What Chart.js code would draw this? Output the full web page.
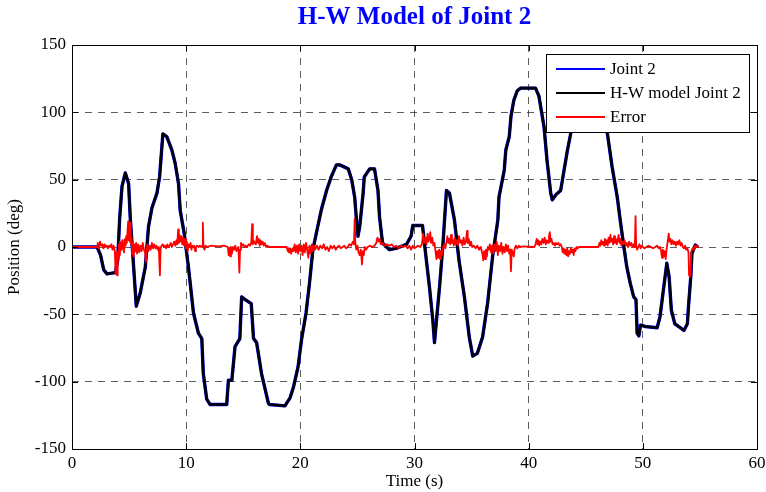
<!DOCTYPE html>
<html>
<head>
<meta charset="utf-8">
<script src="https://cdn.jsdelivr.net/npm/chart.js@4.4.1/dist/chart.umd.min.js"></script>
<style>
  html, body { margin: 0; padding: 0; background: #ffffff; }
  #wrap { width: 766px; height: 492px; position: relative; }
</style>
</head>
<body>
<div id="wrap"><canvas id="c" width="766" height="492"></canvas></div>
<script>
// ---- Data ----
const chartTitle = "H-W Model of Joint 2";
const seriesNames = ["Joint 2", "H-W model Joint 2", "Error"];
const xTickValues = [0, 10, 20, 30, 40, 50, 60];
const yTickValues = [-150, -100, -50, 0, 50, 100, 150];

// time (s) of joint-angle samples
const jointTime = [0, 2.2, 2.5, 2.78, 3.07, 3.8, 4.0, 4.18, 4.38, 4.67, 4.96, 5.1, 5.4, 5.63, 5.98, 6.42, 6.7, 7.0, 7.44, 7.67, 7.96, 8.3, 8.75, 9.04, 9.33, 9.48, 9.83, 10.2, 10.64, 11.07, 11.37, 11.5, 11.8, 12.1, 13.55, 13.7, 14.0, 14.28, 14.7, 14.86, 15.15, 15.7, 15.9, 16.17, 16.6, 17.2, 17.3, 18.65, 19.1, 19.4, 19.8, 20.1, 20.5, 20.8, 21.1, 21.47, 21.85, 22.3, 22.7, 23.16, 23.45, 24.2, 24.5, 24.76, 24.9, 25.05, 25.2, 25.5, 25.6, 26.07, 26.5, 26.8, 26.94, 27.2, 27.8, 28.4, 29.3, 29.7, 29.85, 30.7, 31.0, 31.3, 31.6, 31.75, 31.95, 32.2, 32.5, 32.8, 33.06, 33.5, 33.9, 34.37, 34.8, 35.1, 35.5, 35.96, 36.4, 36.84, 37.3, 37.4, 37.86, 38.0, 38.3, 38.45, 38.7, 39.0, 39.3, 40.6, 40.9, 41.35, 41.6, 41.93, 42.07, 42.4, 42.8, 43.1, 43.4, 43.7, 44.2, 45.0, 46.0, 46.6, 46.9, 47.3, 47.76, 48.05, 48.34, 48.6, 48.9, 49.2, 49.4, 49.5, 49.65, 49.8, 50.2, 51.25, 51.5, 51.8, 52.1, 52.3, 52.5, 52.8, 53.3, 53.6, 53.9, 54.0, 54.2, 54.3, 54.6, 54.75];
// measured joint angle (deg)
const jointDeg = [0, 0, -6, -17, -20, -19, -10, 22, 45, 55, 47, 22, -15, -44, -34, -15, 15, 29, 40, 52, 84, 82, 72, 62, 47, 27, 10, -15, -49, -64, -68, -94, -113, -117, -117, -99, -99, -74, -68, -37, -39, -42, -68, -71, -94, -116, -117, -118, -112, -104, -89, -69, -49, -27, -2, 13, 28, 42, 52, 61, 61, 58, 50, 37, 22, 8, 15, 40, 52, 58, 58, 42, 22, 3, -2, -1, 2, 8, 16, 16, -7, -29, -54, -71, -52, -29, 3, 42, 40, 20, -10, -37, -67, -81, -79, -67, -42, -7, 20, 37, 57, 72, 82, 97, 109, 116, 118, 118, 112, 89, 65, 40, 35, 39, 42, 57, 72, 85, 100, 106, 104, 95, 84, 60, 37, 18, 0, -15, -27, -37, -39, -64, -66, -58, -59, -60, -52, -32, -12, -22, -47, -57, -60, -62, -57, -44, -22, -5, 1.5, 0.5];
// H-W model output (deg): it overlays the measured curve in the picture
const modelDeg = jointDeg;

// error between measurement and model
const errTime = [0, 2.2, 2.25, 2.35, 2.45, 2.55, 2.65, 2.75, 2.85, 2.95, 3.05, 3.15, 3.25, 3.35, 3.45, 3.55, 3.65, 3.75, 3.82, 3.88, 3.95, 4.0, 4.05, 4.1, 4.15, 4.2, 4.25, 4.3, 4.35, 4.4, 4.45, 4.5, 4.55, 4.6, 4.65, 4.7, 4.75, 4.8, 4.85, 4.92, 4.97, 5.02, 5.07, 5.12, 5.17, 5.22, 5.27, 5.32, 5.37, 5.42, 5.47, 5.52, 5.57, 5.62, 5.7, 5.8, 5.9, 6.0, 6.1, 6.2, 6.3, 6.4, 6.48, 6.55, 6.6, 6.7, 6.8, 6.9, 7.0, 7.1, 7.2, 7.3, 7.4, 7.5, 7.6, 7.7, 7.76, 7.85, 7.95, 8.05, 8.15, 8.25, 8.35, 8.45, 8.55, 8.65, 8.75, 8.85, 8.95, 9.05, 9.15, 9.22, 9.3, 9.36, 9.42, 9.5, 9.58, 9.66, 9.74, 9.82, 9.9, 9.98, 10.06, 10.14, 10.22, 10.3, 10.38, 10.46, 10.54, 10.62, 10.7, 10.78, 10.86, 10.96, 11.1, 11.2, 11.3, 11.4, 11.46, 11.52, 11.6, 11.7, 11.8, 12.2, 12.8, 13.3, 13.65, 13.72, 13.78, 13.85, 13.92, 14.0, 14.1, 14.2, 14.3, 14.4, 14.5, 14.58, 14.66, 14.72, 14.8, 14.9, 15.0, 15.1, 15.2, 15.3, 15.4, 15.5, 15.6, 15.7, 15.78, 15.84, 15.9, 16.0, 16.1, 16.2, 16.28, 16.36, 16.44, 16.52, 16.6, 16.7, 16.8, 16.9, 17.0, 17.1, 17.3, 18.8, 18.9, 18.95, 19.0, 19.1, 19.2, 19.3, 19.4, 19.5, 19.6, 19.7, 19.8, 19.9, 20.0, 20.1, 20.2, 20.3, 20.4, 20.5, 20.6, 20.7, 20.8, 20.9, 21.0, 21.1, 21.2, 21.3, 21.45, 21.6, 21.75, 21.9, 22.05, 22.2, 22.35, 22.5, 22.65, 22.8, 22.95, 23.1, 23.25, 23.4, 23.55, 23.7, 23.85, 24.0, 24.15, 24.3, 24.45, 24.6, 24.7, 24.76, 24.82, 24.9, 25.0, 25.1, 25.2, 25.3, 25.4, 25.48, 25.56, 25.64, 25.75, 25.9, 26.1, 26.3, 26.5, 26.65, 26.75, 26.85, 26.95, 27.05, 27.2, 27.4, 27.6, 27.8, 28.0, 28.2, 28.4, 28.6, 28.8, 29.0, 29.2, 29.4, 29.55, 29.7, 29.85, 30.0, 30.15, 30.3, 30.5, 30.65, 30.75, 30.85, 30.95, 31.05, 31.15, 31.22, 31.3, 31.38, 31.45, 31.55, 31.65, 31.75, 31.85, 31.92, 32.0, 32.08, 32.16, 32.24, 32.32, 32.4, 32.5, 32.6, 32.7, 32.8, 32.88, 32.96, 33.04, 33.12, 33.2, 33.28, 33.36, 33.44, 33.52, 33.6, 33.7, 33.8, 33.9, 34.0, 34.1, 34.2, 34.3, 34.4, 34.5, 34.6, 34.66, 34.75, 34.85, 34.95, 35.05, 35.2, 35.35, 35.5, 35.65, 35.8, 35.95, 36.02, 36.1, 36.18, 36.26, 36.34, 36.42, 36.5, 36.6, 36.7, 36.8, 36.9, 37.0, 37.1, 37.2, 37.3, 37.4, 37.5, 37.6, 37.7, 37.8, 37.9, 38.0, 38.1, 38.2, 38.3, 38.38, 38.45, 38.52, 38.6, 38.7, 38.78, 38.9, 39.0, 39.15, 39.3, 39.5, 40.5, 40.6, 40.7, 40.78, 40.86, 40.94, 41.02, 41.1, 41.2, 41.3, 41.4, 41.5, 41.6, 41.7, 41.78, 41.85, 41.92, 42.0, 42.1, 42.2, 42.3, 42.4, 42.5, 42.6, 42.7, 42.8, 42.9, 42.98, 43.06, 43.14, 43.22, 43.3, 43.38, 43.46, 43.54, 43.62, 43.7, 43.78, 43.86, 43.94, 44.02, 44.1, 44.2, 44.3, 44.4, 46.1, 46.2, 46.28, 46.36, 46.44, 46.52, 46.6, 46.68, 46.76, 46.84, 46.92, 47.0, 47.08, 47.16, 47.24, 47.32, 47.4, 47.48, 47.56, 47.64, 47.72, 47.8, 47.88, 47.96, 48.04, 48.12, 48.2, 48.3, 48.4, 48.5, 48.6, 48.7, 48.8, 48.9, 49.0, 49.1, 49.2, 49.3, 49.36, 49.42, 49.5, 49.6, 49.7, 49.8, 49.9, 50.0, 50.15, 50.3, 50.5, 50.7, 50.9, 51.1, 51.25, 51.4, 51.5, 51.6, 51.68, 51.76, 51.84, 51.92, 52.0, 52.08, 52.16, 52.27, 52.34, 52.42, 52.5, 52.6, 52.7, 52.8, 52.9, 53.0, 53.1, 53.2, 53.3, 53.4, 53.5, 53.6, 53.7, 53.8, 53.9, 54.0, 54.05, 54.12, 54.18, 54.25, 54.35, 54.45, 54.55, 54.65, 54.75, 54.85];
const errDeg = [0, 0, 3, -1, 4, 1, 2, -1, 2, 0, 1, -1, 1, 0, 2, -2, 1, -3, -20, -4, -21, -3, -9, 2, -6, 4, -3, 3, -2, 5, -1, 3, -4, 2, 6, 1, 8, 3, 10, 19, 5, 12, 4, 18, 2, 7, -5, 3, -7, 1, -4, 2, -3, 3, -5, 2, -4, 1, -3, 3, -2, -4, -11, -1, 2, -3, 1, -2, 3, -1, 2, -1, 1, -2, 0, -21, -1, 1, 2, 0, 1, -1, 2, 0, 1, 3, 0, 2, 4, 1, 5, 2, 13, 3, 9, 4, 8, 2, 7, 1, 6, -1, 4, -3, 2, 0, 3, -2, 1, 0, 1, -3, 0, 1, 0, 1, 0, 1, 18, 0, -2, 1, 0, 1, 0.5, 1, 0, -6, -1, -7, 0, -5, 0, -2, 1, -3, -1, 0, -19, -2, 3, 1, 2, 0, 1, 0, 1, 2, 1, 3, 17, 2, 5, 3, 2, 8, 3, 6, 1, 5, 2, 4, 1, 3, 0, 1, 0, 0, -3, -1, -4, -1, -5, -1, -3, 2, -4, 1, -5, 2, -3, 1, -6, 2, -4, 3, -2, -8, 1, -5, 2, -3, 1, -2, 1, -2, 1, -1, 2, -2, 0, -3, 1, -1, 1, -2, 0, 1, -1, 0, 1, -1, 0, 2, 1, 4, 2, 21, 3, -2, 1, -4, -6, -2, -13, -3, -6, 0, -2, 0, 1, 0, 1, 3, 7, 4, 6, 2, 3, 1, 2, 1, 2, 0, 1, -1, 1, 0, 1, -1, 1, -2, 1, -1, 0, 1, 0, 2, 10, 3, 7, 2, 10, 4, 6, 11, 3, 7, 1, 3, -4, -9, -3, -8, -2, -9, -3, -6, 0, 2, -1, 4, 8, 3, 6, 2, 9, 3, 5, 1, 7, 2, 5, 1, 8, 3, 5, 1, 7, 2, 4, 12, 3, 6, 1, 4, 0, 1, -1, 1, -2, 0, -5, -10, -3, -9, -2, -7, 0, -2, 2, -4, 1, -5, 2, -3, 4, -6, 1, -3, 3, -5, 0, -4, 2, -3, 1, -5, -2, -18, -2, -4, -7, -1, 1, -1, 1, 0, 0.5, 0, 2, 6, 2, 5, 1, 4, 2, 6, 3, 7, 2, 5, 3, 8, 11, 4, 6, 2, 3, 1, 3, 2, 3, 1, 2, 0, -4, -1, -5, -2, -6, -1, -7, -3, -5, -1, -4, -2, -6, -1, -3, 0, -1, 0, 0, 3, 1, 5, 2, 4, 1, 6, 2, 5, 1, 7, 3, 9, 4, 6, 2, 8, 3, 6, 2, 5, 9, 3, 6, 1, 4, 2, 5, 1, 3, 0, 4, 1, 3, 0, 2, 0, 23, 1, -2, 0, 2, -1, 1, 0, -1, 0, 1, 0, -1, 0, 1, -1, 0, -3, -8, -2, -7, -3, -9, -2, 3, 10, 4, 6, 2, 5, 2, 4, 1, 4, 2, 5, 1, 3, 0, -1, 1, -2, -1, -4, -21, -22, -20, -3, -1, -2, 1, 0, 1, 0];

// ---- helpers ----
const toPoints = (xs, ys) => xs.map((x, i) => ({ x: x, y: ys[i] }));
const SERIF = "'Liberation Serif', 'Times New Roman', serif";

const insideTicks = {
  id: 'insideTicks',
  afterDraw(chart) {
    const { ctx, chartArea: a, scales } = chart;
    const len = 6;
    ctx.save();
    ctx.strokeStyle = '#000';
    ctx.lineWidth = 1;
    ctx.beginPath();
    scales.x.ticks.forEach(t => {
      const px = Math.round(scales.x.getPixelForValue(t.value)) + 0.5;
      ctx.moveTo(px, a.bottom); ctx.lineTo(px, a.bottom - len);
      ctx.moveTo(px, a.top); ctx.lineTo(px, a.top + len);
    });
    scales.y.ticks.forEach(t => {
      const py = Math.round(scales.y.getPixelForValue(t.value)) + 0.5;
      ctx.moveTo(a.left, py); ctx.lineTo(a.left + len, py);
      ctx.moveTo(a.right, py); ctx.lineTo(a.right - len, py);
    });
    ctx.stroke();
    ctx.strokeRect(Math.round(a.left) + 0.5, Math.round(a.top) + 0.5,
                   Math.round(a.right - a.left), Math.round(a.bottom - a.top));
    // legend box inside the plot (top-right)
    const ds = chart.data.datasets;
    ctx.font = "17px " + SERIF;
    let maxW = 0;
    ds.forEach(d => { maxW = Math.max(maxW, ctx.measureText(d.label).width); });
    const boxR = Math.round(a.right) - 8;
    const lineLen = 49, gap = 5, padL = 10, padR = 8;
    const boxW = Math.round(padL + lineLen + gap + maxW + padR);
    const boxL = Math.round(boxR - boxW);
    const boxT = Math.round(a.top) + 9;
    const rowH = 24;
    const boxH = rowH * ds.length + 6;
    ctx.fillStyle = '#fff';
    ctx.fillRect(boxL, boxT, boxW, boxH);
    ctx.strokeStyle = '#000';
    ctx.lineWidth = 1;
    ctx.strokeRect(boxL + 0.5, boxT + 0.5, boxW, boxH);
    ds.forEach((d, i) => {
      const cy = boxT + 15 + i * rowH;
      ctx.strokeStyle = d.borderColor;
      ctx.lineWidth = 2;
      ctx.beginPath();
      ctx.moveTo(boxL + padL, cy); ctx.lineTo(boxL + padL + lineLen, cy);
      ctx.stroke();
      ctx.fillStyle = '#000';
      ctx.textBaseline = 'middle';
      ctx.textAlign = 'left';
      ctx.fillText(d.label, boxL + padL + lineLen + gap, cy + 1);
    });
    ctx.restore();
  }
};

const gridColor = (min, max) => (c) => {
  const v = c.tick ? c.tick.value : null;
  return (v === min || v === max) ? 'rgba(0,0,0,0)' : 'rgba(40,40,40,0.75)';
};

new Chart(document.getElementById('c'), {
  type: 'line',
  data: {
    datasets: [
      { label: seriesNames[0], data: toPoints(jointTime, jointDeg), borderColor: '#0000ff', borderWidth: 3.4, order: 3 },
      { label: seriesNames[1], data: toPoints(jointTime, modelDeg), borderColor: '#000000', borderWidth: 2.6, order: 2 },
      { label: seriesNames[2], data: toPoints(errTime, errDeg), borderColor: '#ff0000', borderWidth: 1.8, order: 1 }
    ]
  },
  options: {
    responsive: false,
    animation: false,
    events: [],
    elements: { point: { radius: 0 }, line: { tension: 0, borderJoinStyle: 'round', borderCapStyle: 'round' } },
    layout: { padding: { left: 4, right: 9, top: 0, bottom: 0 } },
    plugins: {
      legend: { display: false },
      tooltip: { enabled: false },
      title: {
        display: true,
        fullSize: false,
        text: chartTitle,
        color: '#0000ff',
        font: { family: SERIF, size: 25, weight: 'bold' },
        padding: { top: 3, bottom: 12 }
      }
    },
    scales: {
      x: {
        type: 'linear',
        min: xTickValues[0], max: xTickValues[xTickValues.length - 1],
        afterBuildTicks: (s) => { s.ticks = xTickValues.map(v => ({ value: v })); },
        afterFit: (s) => { s.height = 43; s.paddingLeft = 0; s.paddingRight = 0; },
        grid: { color: gridColor(0, 60), lineWidth: 1, drawTicks: false },
        border: { display: false, dash: [7, 6] },
        ticks: { color: '#000', padding: 4, maxRotation: 0, font: { family: SERIF, size: 17 } },
        title: { display: true, text: 'Time (s)', color: '#000', padding: { top: 0, bottom: 0 }, font: { family: SERIF, size: 17 } }
      },
      y: {
        type: 'linear',
        min: yTickValues[0], max: yTickValues[yTickValues.length - 1],
        afterBuildTicks: (s) => { s.ticks = yTickValues.map(v => ({ value: v })); },
        afterFit: (s) => { s.width = 68; },
        grid: { color: gridColor(-150, 150), lineWidth: 1, drawTicks: false },
        border: { display: false, dash: [7, 6] },
        ticks: { color: '#000', padding: 6, font: { family: SERIF, size: 17 } },
        title: { display: true, text: 'Position (deg)', color: '#000', padding: { top: 0, bottom: 0 }, font: { family: SERIF, size: 17 } }
      }
    }
  },
  plugins: [insideTicks]
});
</script>
</body>
</html>
